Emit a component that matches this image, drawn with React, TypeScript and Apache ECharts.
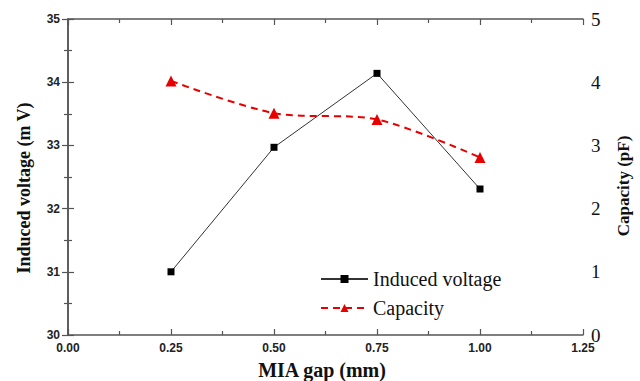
import React, { useEffect, useRef } from "react";
import * as echarts from "echarts";

// MIA gap (mm)
const gaps = [0.25, 0.5, 0.75, 1.0];
// Induced voltage (mV)
const voltage = [31.0, 32.97, 34.14, 32.31];
// Capacity (pF)
const capacity = [4.02, 3.51, 3.41, 2.81];

const xTicks = { min: 0, max: 1.25, interval: 0.25 };
const leftTicks = { min: 30, max: 35, interval: 1 };
const rightTicks = { min: 0, max: 5, interval: 1 };

const serif = "Liberation Serif";
const sans = "Liberation Sans";
const axisColor = "#555";

export default function App() {
  const ref = useRef<HTMLDivElement>(null);

  useEffect(() => {
    if (!ref.current) return;
    const chart = echarts.init(ref.current, undefined, { renderer: "svg" });

    const baseTick = {
      axisLine: { show: true, lineStyle: { color: axisColor, width: 1.5 } },
      axisTick: { show: true, inside: true, length: 6, lineStyle: { color: axisColor, width: 1.2 } },
      minorTick: { show: true, splitNumber: 2, length: 4, lineStyle: { color: axisColor, width: 1.2 } },
      splitLine: { show: false },
    };

    const titleStyle = {
      fontFamily: serif,
      fontWeight: "bold",
      fill: "#111",
      align: "center",
      verticalAlign: "middle",
    };

    chart.setOption({
      animation: false,
      backgroundColor: "#fff",
      textStyle: { fontFamily: serif },
      grid: {
        left: 68,
        right: 57,
        top: 19,
        bottom: 46,
        containLabel: false,
        outerBoundsMode: "none",
      },
      legend: {
        orient: "vertical",
        left: 320,
        top: 269,
        padding: 0,
        itemWidth: 47,
        itemHeight: 10,
        itemGap: 9,
        textStyle: { fontFamily: serif, fontSize: 20, color: "#111" },
        data: [
          { name: "Induced voltage", textStyle: { fontFamily: serif } },
          { name: "Capacity", textStyle: { fontFamily: serif } },
        ],
      },
      graphic: [
        {
          type: "text",
          x: 24,
          y: 188,
          rotation: Math.PI / 2,
          style: { ...titleStyle, text: "Induced voltage (m V)", fontSize: 18 },
        },
        {
          type: "text",
          x: 623,
          y: 186,
          rotation: Math.PI / 2,
          style: { ...titleStyle, text: "Capacity (pF)", fontSize: 17 },
        },
        {
          type: "text",
          x: 322,
          y: 370,
          style: { ...titleStyle, text: "MIA gap (mm)", fontSize: 20 },
        },
      ],
      xAxis: [
        {
          type: "value",
          ...xTicks,
          position: "bottom",
          axisLabel: {
            fontFamily: sans,
            fontWeight: "bold",
            fontSize: 12,
            color: "#222",
            margin: 7,
            formatter: (v: number) => v.toFixed(2),
          },
          ...baseTick,
        },
        {
          type: "value",
          ...xTicks,
          position: "top",
          axisLabel: { show: false },
          ...baseTick,
        },
      ],
      yAxis: [
        {
          type: "value",
          ...leftTicks,
          position: "left",
          axisLabel: {
            fontFamily: sans,
            fontWeight: "bold",
            fontSize: 12,
            color: "#222",
            margin: 8,
          },
          ...baseTick,
        },
        {
          type: "value",
          ...rightTicks,
          position: "right",
          axisLabel: {
            fontFamily: serif,
            fontSize: 19,
            color: "#111",
            margin: 8,
            padding: [0, 0, 3, 0],
          },
          ...baseTick,
        },
      ],
      series: [
        {
          name: "Induced voltage",
          type: "line",
          xAxisIndex: 0,
          yAxisIndex: 0,
          data: gaps.map((g, i) => [g, voltage[i]]),
          symbol: "rect",
          symbolSize: 7,
          itemStyle: { color: "#000" },
          lineStyle: { color: "#333", width: 1 },
          z: 2,
        },
        {
          name: "Capacity",
          type: "line",
          xAxisIndex: 0,
          yAxisIndex: 1,
          data: gaps.map((g, i) => [g, capacity[i]]),
          smooth: 0.3,
          symbol: "triangle",
          symbolSize: 11,
          itemStyle: { color: "#e60000" },
          lineStyle: { color: "#e60000", width: 2, type: [7, 5] },
          z: 3,
        },
      ],
    });

    return () => chart.dispose();
  }, []);

  return <div ref={ref} style={{ width: 640, height: 381, position: "absolute", left: 0, top: 0 }} />;
}
